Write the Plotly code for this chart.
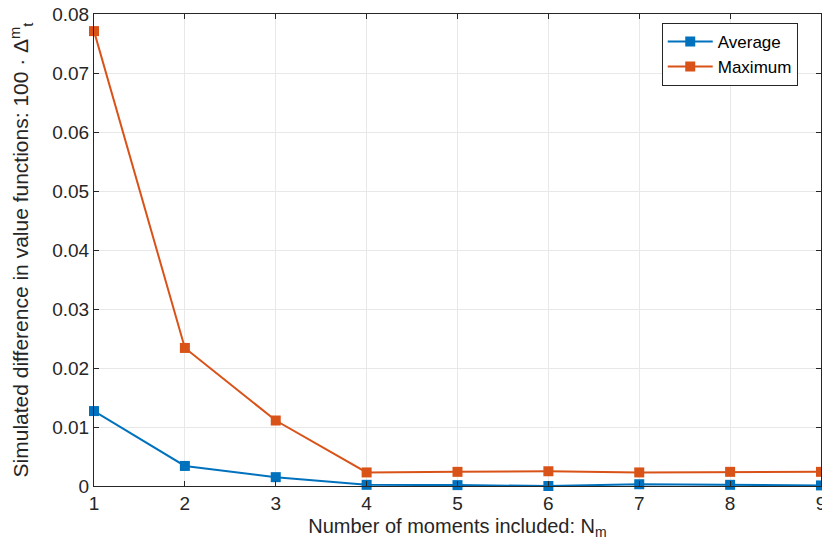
import plotly.graph_objects as go

moments = [1, 2, 3, 4, 5, 6, 7, 8, 9]
average = [0.0127, 0.0034, 0.0015, 0.0002, 0.00015, 0.0000, 0.0003, 0.0002, 0.0001]
maximum = [0.0771, 0.0234, 0.0111, 0.0023, 0.0024, 0.0025, 0.0023, 0.0024, 0.0024]
y_ticks = [0, 0.01, 0.02, 0.03, 0.04, 0.05, 0.06, 0.07, 0.08]
y_labels = ["0", "0.01", "0.02", "0.03", "0.04", "0.05", "0.06", "0.07", "0.08"]

FONT = "Liberation Sans, Arial, Helvetica, sans-serif"

fig = go.Figure()
fig.add_trace(go.Scatter(x=moments, y=average, name="Average", mode="lines+markers",
                         line=dict(color="#0072BD", width=2),
                         marker=dict(symbol="square", size=10, color="#0072BD"),
                         cliponaxis=False))
fig.add_trace(go.Scatter(x=moments, y=maximum, name="Maximum", mode="lines+markers",
                         line=dict(color="#D95319", width=2),
                         marker=dict(symbol="square", size=10, color="#D95319"),
                         cliponaxis=False))

axis_common = dict(showline=True, linecolor="#262626", linewidth=1, mirror="allticks",
                   ticks="inside", ticklen=5, tickcolor="#262626",
                   showgrid=True, gridcolor="#e8e8e8", gridwidth=1, zeroline=False,
                   automargin=False, ticklabeloverflow="allow",
                   tickfont=dict(family=FONT, size=19, color="#262626"))

fig.update_layout(
    width=822, height=552,
    paper_bgcolor="white", plot_bgcolor="white",
    margin=dict(l=94, r=1, t=14, b=66),
    font=dict(family=FONT, color="#262626"),
    xaxis=dict(range=[1, 9], tickvals=moments, **axis_common,
               title=dict(text="Number of moments included: N<sub>m</sub>",
                          font=dict(family=FONT, size=20, color="#262626"), standoff=6)),
    yaxis=dict(range=[0, 0.08], tickvals=y_ticks, ticktext=y_labels, **axis_common,
               title=dict(text="Simulated difference in value functions: 100 · Δ<sup>m</sup><sub>t</sub>",
                          font=dict(family=FONT, size=21, color="#262626"), standoff=17)),
    legend=dict(x=0.968, y=0.981, xanchor="right", yanchor="top",
                bordercolor="#262626", borderwidth=1, bgcolor="white",
                font=dict(family=FONT, size=17, color="#000000"),
                tracegroupgap=0, itemwidth=45),
    showlegend=True,
)

fig.write_html("out.html", config={"displayModeBar": False},
               post_script="document.body.style.margin='0';")
